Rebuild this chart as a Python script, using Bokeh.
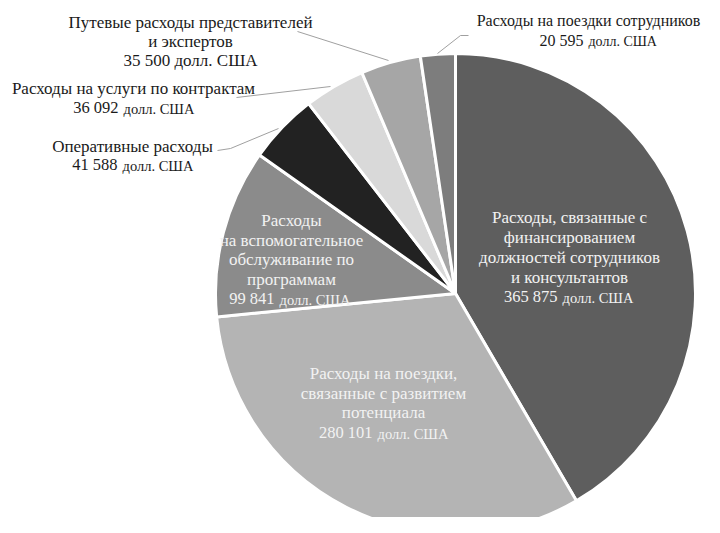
import math
from bokeh.plotting import figure
from bokeh.models import Range1d, ColumnDataSource
from bokeh.core.properties import value
from bokeh.embed import file_html
from bokeh.resources import INLINE

# ---- data ----
categories = [
    "Расходы, связанные с финансированием должностей сотрудников и консультантов",
    "Расходы на поездки, связанные с развитием потенциала",
    "Расходы на вспомогательное обслуживание по программам",
    "Оперативные расходы",
    "Расходы на услуги по контрактам",
    "Путевые расходы представителей и экспертов",
    "Расходы на поездки сотрудников",
]
amounts = [365875, 280101, 99841, 41588, 36092, 35500, 20595]
amount_labels = ["365 875", "280 101", "99 841", "41 588", "36 092", "35 500", "20 595"]
colors = ["#5e5e5e", "#b4b4b4", "#8b8b8b", "#222222", "#d9d9d9", "#a6a6a6", "#7d7d7d"]
unit = "долл. США"

W, H = 704, 517
FONT = value("Liberation Serif")

def Y(sy):
    # screen y (in 720x533 picture) -> data y
    return 533 - sy

p = figure(width=W, height=H, output_backend="svg", toolbar_location=None,
           x_range=Range1d(0, W), y_range=Range1d(533 - H, 533),
           min_border=0, outline_line_color=None)
p.axis.visible = False
p.grid.visible = False
p.background_fill_color = "white"
p.border_fill_color = "white"

# ---- pie ----
cx, cy, r = 455, Y(293), 240
total = sum(amounts)
starts, ends = [], []
cum = 0
for a in amounts:
    starts.append(math.pi / 2 - 2 * math.pi * cum / total)
    cum += a
    ends.append(math.pi / 2 - 2 * math.pi * cum / total)
src = ColumnDataSource(dict(start=starts, end=ends, color=colors, cat=categories, amt=amounts))
p.wedge(x=cx, y=cy, radius=r, start_angle="start", end_angle="end", direction="clock",
        fill_color="color", line_color="white", line_width=3, source=src)

# ---- leader lines ----
leaders = [
    ([297, 388], [31, 60]),
    ([236, 330], [97, 86]),
    ([217, 230, 278], [150, 148, 128]),
    ([437, 460, 468], [53, 35, 35]),
]
for xs, ys in leaders:
    p.line(x=xs, y=[Y(v) for v in ys], line_color="#a0a0a0", line_width=1)

def txt(x, y, s, color, size="17px", align="center"):
    p.text(x=[x], y=[Y(y)], text=[s], text_font=FONT, text_font_size=size,
           text_color=color, text_align=align, text_baseline="middle")

def amount_line(xsplit, y, num, color, unit_size="14.5px", num_size="16.5px"):
    txt(xsplit - 2, y, num, color, num_size, "right")
    txt(xsplit + 3, y + 1, unit, color, unit_size, "left")

# outer labels
dark = "#1a1a1a"
txt(190, 22, "Путевые расходы представителей", dark)
txt(190, 41, "и экспертов", dark)
txt(190, 60, amount_labels[5] + " " + unit, dark)

txt(133, 88, "Расходы на услуги по контрактам", dark)
amount_line(120, 107, amount_labels[4], dark)

txt(132, 146, "Оперативные расходы", dark)
amount_line(119, 164, amount_labels[3], dark)

txt(588, 20, "Расходы на поездки сотрудников", dark, "16px")
amount_line(585, 40, amount_labels[6], dark, "14px", "16px")

# inside labels
light = "#f2f2f2"
for i, s in enumerate(["Расходы, связанные с", "финансированием",
                       "должностей сотрудников", "и консультантов"]):
    txt(569, 217 + 20 * i, s, light)
amount_line(559, 296, amount_labels[0], light)

for i, s in enumerate(["Расходы на поездки,", "связанные с развитием", "потенциала"]):
    txt(383, 373 + 19.5 * i, s, light)
amount_line(374, 432, amount_labels[1], light)

for i, s in enumerate(["Расходы", "на вспомогательное", "обслуживание по", "программам"]):
    txt(291, 220 + 19.5 * i, s, light)
amount_line(276, 298, amount_labels[2], light)

open("out.html", "w").write(file_html(p, INLINE))
